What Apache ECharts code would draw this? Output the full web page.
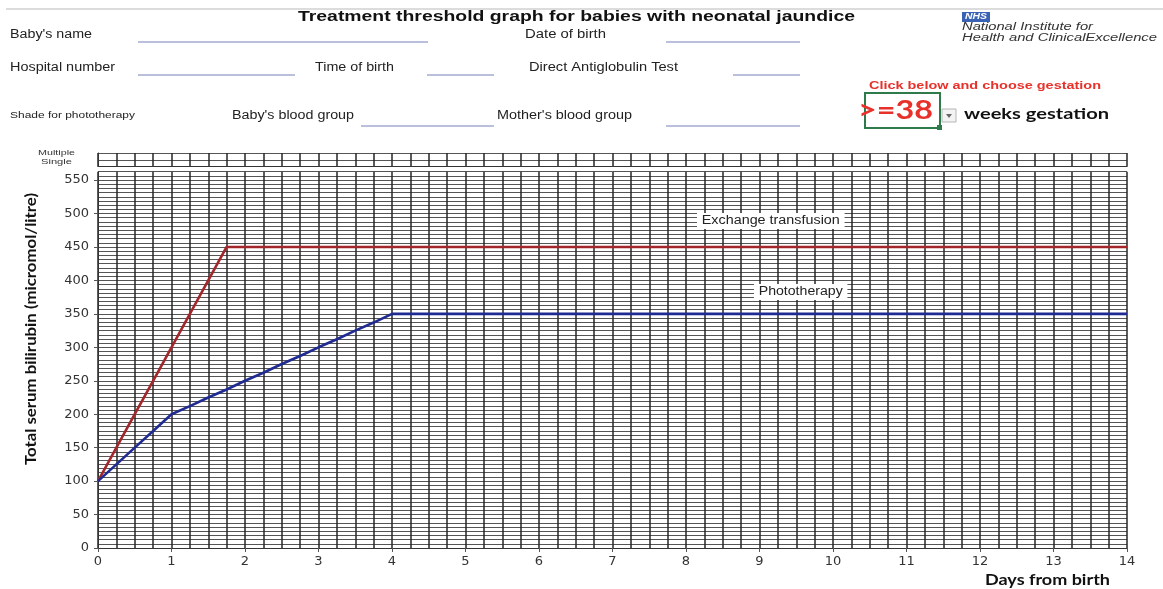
<!DOCTYPE html>
<html><head><meta charset="utf-8">
<script src="https://cdn.jsdelivr.net/npm/echarts@6/dist/echarts.min.js"></script>
<style>html,body{margin:0;padding:0;background:#fff}#c{width:1163px;height:589px}</style>
</head><body><div id="c"></div>
<script>
// ---- data ----
const exchangeDays = [0, 0.25, 0.5, 0.75, 1, 1.25, 1.5, 1.75, 14];
const exchangeValues = [100, 150, 200, 250, 300, 350, 400, 450, 450];
const phototherapyDays = [0, 0.25, 0.5, 0.75, 1, 1.25, 1.5, 1.75, 2, 2.25, 2.5, 2.75, 3, 3.25, 3.5, 3.75, 4, 14];
const phototherapyValues = [100, 125, 150, 175, 200, 212, 225, 237, 250, 262, 275, 287, 300, 312, 325, 337, 350, 350];
const bilirubinTicks = [0, 50, 100, 150, 200, 250, 300, 350, 400, 450, 500, 550];
const dayTicks = [0, 1, 2, 3, 4, 5, 6, 7, 8, 9, 10, 11, 12, 13, 14];
const seriesNames = ['Exchange transfusion', 'Phototherapy'];
const stripRows = ['Single', 'Multiple'];
const titleText = 'Treatment threshold graph for babies with neonatal jaundice';
const xTitle = 'Days from birth';
const yTitle = 'Total serum bilirubin (micromol/litre)';
const gestation = '>=38';

// ---- helpers ----
const ctx = document.createElement('canvas').getContext('2d');
function fit(text, font, w) { ctx.font = font; return w / ctx.measureText(text).width; }
function txt(text, x, cy, w, font, fill, extra) {
  const el = {
    type: 'text', x: x, y: cy, scaleX: fit(text, font, w), silent: true, z: 100,
    style: { text: text, font: font, fill: fill || '#222', align: 'left', textAlign: 'left', verticalAlign: 'middle', textVerticalAlign: 'middle' }
  };
  if (extra) { Object.assign(el.style, extra.style || {}); if (extra.rotation != null) el.rotation = extra.rotation; }
  return el;
}
function hline(x1, x2, y, color, w) {
  return { type: 'line', silent: true, z: 90, shape: { x1: x1, y1: y, x2: x2, y2: y }, style: { stroke: color, lineWidth: w } };
}
const F = 'Liberation Sans, Arial, sans-serif';
const LBL = '12px ' + F;
const lineCol = '#a3abd0';

const graphics = [
  hline(6, 1163, 9, '#dcdcdc', 2),
  txt(titleText, 298, 17, 557, 'bold 14px ' + F, '#111'),
  txt("Baby's name", 10, 35, 82, LBL),
  hline(138, 428, 42, lineCol, 1.5),
  txt('Date of birth', 525, 35, 81, LBL),
  hline(666, 800, 42, lineCol, 1.5),
  txt('Hospital number', 10, 68, 105, LBL),
  hline(138, 295, 75, lineCol, 1.5),
  txt('Time of birth', 315, 68, 79, LBL),
  hline(427, 494, 75, lineCol, 1.5),
  txt('Direct Antiglobulin Test', 529, 68, 149, LBL),
  hline(733, 800, 75, lineCol, 1.5),
  txt('Shade for phototherapy', 10, 116, 125, '9px ' + F),
  txt("Baby's blood group", 232, 116, 122, LBL),
  hline(361, 494, 126, lineCol, 1.5),
  txt("Mother's blood group", 497, 116, 135, LBL),
  hline(666, 800, 126, lineCol, 1.5),
  // NHS logo
  { type: 'rect', silent: true, z: 95, shape: { x: 962, y: 12, width: 28, height: 10 }, style: { fill: '#3a62b4' } },
  txt('NHS', 965, 17, 22, 'italic bold 9px ' + F, '#fff'),
  txt('National Institute for', 962, 27, 131, 'italic 10px ' + F, '#333'),
  txt('Health and ClinicalExcellence', 962, 38, 195, 'italic 10px ' + F, '#333'),
  // gestation selector
  txt('Click below and choose gestation', 869, 86, 232, 'bold 11px ' + F, '#e8312b'),
  { type: 'rect', silent: true, z: 95, shape: { x: 865, y: 93, width: 75, height: 35 }, style: { fill: '#fff', stroke: '#2f7a4a', lineWidth: 2 } },
  txt(gestation, 858, 111, 75, 'bold 26px Lato, sans-serif', '#e8312b'),
  { type: 'rect', silent: true, z: 95, shape: { x: 942, y: 109, width: 14, height: 13 }, style: { fill: '#f3f3f3', stroke: '#b5b5b5', lineWidth: 1 } },
  { type: 'polygon', silent: true, z: 96, shape: { points: [[946, 114], [952, 114], [949, 118]] }, style: { fill: '#666' } },
  { type: 'rect', silent: true, z: 97, shape: { x: 937, y: 125, width: 5, height: 5 }, style: { fill: '#2f7a4a' } },
  txt('weeks gestation', 964, 114, 145, 'bold 16px Lato, sans-serif', '#111'),
  // strip labels
  txt(stripRows[1], 38, 153, 37, '8px ' + F, '#333'),
  txt(stripRows[0], 41, 162, 31, '8px ' + F, '#333'),
  // series labels
  txt(seriesNames[0], 697, 221, 138, '12px ' + F, '#222', { style: { backgroundColor: '#fff', padding: [2, 4] } }),
  txt(seriesNames[1], 754, 292, 84, '12px ' + F, '#222', { style: { backgroundColor: '#fff', padding: [2, 4] } }),
  // axis titles
  txt(xTitle, 985, 580, 125, 'bold 15px Lato, sans-serif', '#111'),
];
// rotated y title (centered)
(function () {
  const font = 'bold 16px Lato, sans-serif';
  graphics.push({
    type: 'text', x: 31, y: 329, rotation: Math.PI / 2, scaleX: fit(yTitle, font, 272), silent: true, z: 100,
    style: { text: yTitle, font: font, fill: '#111', align: 'center', textAlign: 'center', verticalAlign: 'middle', textVerticalAlign: 'middle' }
  });
})();

const gridColV = '#262626';
const gridColH = '#555555';
const numFont = 'DejaVu Sans, sans-serif';

const option = {
  animation: false,
  backgroundColor: '#fff',
  grid: [
    { left: 98, top: 171.7, width: 1029, height: 376.3, containLabel: false },
    { left: 98, top: 153, width: 1029, height: 13.5, containLabel: false }
  ],
  xAxis: [
    { gridIndex: 0, type: 'value', min: 0, max: 14, interval: 0.25, position: 'bottom',
      axisLine: { show: true, lineStyle: { color: '#333', width: 1 } }, axisTick: { show: false }, axisLabel: { show: false },
      splitLine: { show: true, lineStyle: { color: gridColV, width: 1.5 } } },
    { gridIndex: 0, type: 'value', min: dayTicks[0], max: dayTicks[dayTicks.length - 1], interval: 1, position: 'bottom',
      axisLine: { show: false }, axisTick: { show: true, length: 4, lineStyle: { color: '#555' } },
      axisLabel: { show: true, margin: 7, fontFamily: numFont, fontSize: 13, color: '#333',
        formatter: v => dayTicks.indexOf(v) >= 0 ? String(v) : '' },
      splitLine: { show: false } },
    { gridIndex: 1, type: 'value', min: 0, max: 14, interval: 0.25, position: 'bottom',
      axisLine: { show: true, lineStyle: { color: '#333' } }, axisTick: { show: false }, axisLabel: { show: false },
      splitLine: { show: true, lineStyle: { color: gridColV, width: 1.5 } } }
  ],
  yAxis: [
    { gridIndex: 0, type: 'value', min: 0, max: 562.5, interval: 6.25, position: 'left',
      axisLine: { show: true, lineStyle: { color: '#333' } }, axisTick: { show: false }, axisLabel: { show: false },
      splitLine: { show: true, lineStyle: { color: gridColH, width: 1 } } },
    { gridIndex: 0, type: 'value', min: 0, max: 562.5, interval: 50, position: 'left',
      axisLine: { show: false }, axisTick: { show: true, length: 4, lineStyle: { color: '#555' } },
      axisLabel: { show: true, margin: 9, showMaxLabel: false, fontFamily: numFont, fontSize: 13, color: '#333',
        formatter: v => bilirubinTicks.indexOf(v) >= 0 ? String(v) : '' },
      splitLine: { show: false } },
    { gridIndex: 1, type: 'value', min: 0, max: stripRows.length, interval: 1, position: 'left',
      axisLine: { show: true, lineStyle: { color: '#333' } }, axisTick: { show: false }, axisLabel: { show: false },
      splitLine: { show: true, lineStyle: { color: gridColH, width: 1 } } }
  ],
  series: [
    { name: seriesNames[0], type: 'line', xAxisIndex: 0, yAxisIndex: 0, symbol: 'none', silent: true, z: 5,
      lineStyle: { color: '#a3262a', width: 2.6 },
      data: exchangeDays.map((d, i) => [d, exchangeValues[i]]) },
    { name: seriesNames[1], type: 'line', xAxisIndex: 0, yAxisIndex: 0, symbol: 'none', silent: true, z: 5,
      lineStyle: { color: '#1f2b92', width: 2.6 },
      data: phototherapyDays.map((d, i) => [d, phototherapyValues[i]]) }
  ],
  graphic: { elements: graphics }
};
const chart = echarts.init(document.getElementById('c'), null, { renderer: 'canvas' });
chart.setOption(option);
</script>
</body></html>
